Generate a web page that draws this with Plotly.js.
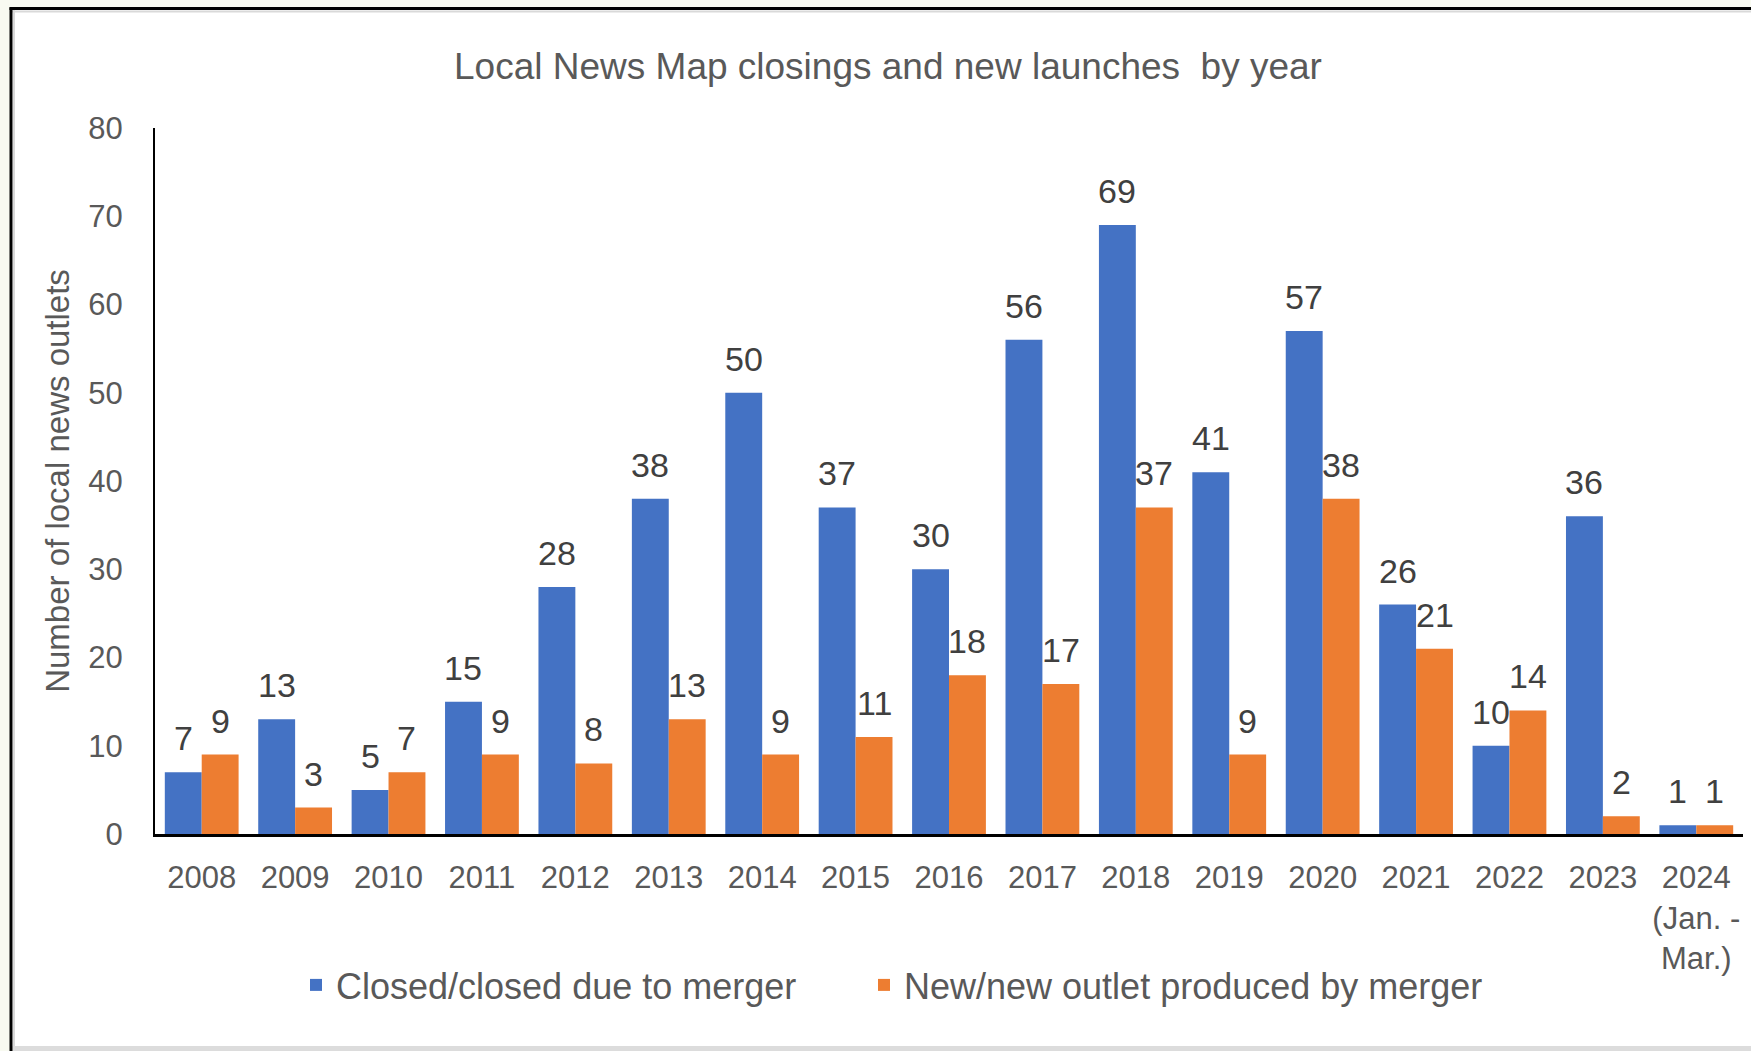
<!DOCTYPE html>
<html><head><meta charset="utf-8">
<script src="https://cdn.plot.ly/plotly-3.0.1.min.js"></script>
<style>html,body{margin:0;padding:0;background:#f8faf1;}#chart{width:1751px;height:1051px;}</style>
</head><body><div id="chart"></div>
<script>
const years = ['2008','2009','2010','2011','2012','2013','2014','2015','2016','2017','2018','2019','2020','2021','2022','2023','2024'];
const tickLabels = ['2008','2009','2010','2011','2012','2013','2014','2015','2016','2017','2018','2019','2020','2021','2022','2023','2024<br>(Jan. -<br>Mar.)'];
const closedCounts = [7,13,5,15,28,38,50,37,30,56,69,41,57,26,10,36,1];
const newCounts = [9,3,7,9,8,13,9,11,18,17,37,9,38,21,14,2,1];
const seriesNames = ['Closed/closed due to merger','New/new outlet produced by merger'];
const seriesColors = ['#4472C4','#ED7D31'];
const titleText = 'Local News Map closings and new launches  by year';
const yTitleText = 'Number of local news outlets';
const yTicks = [0,10,20,30,40,50,60,70,80];

const W = 1751, H = 1051, M = {l:155, r:8, t:128, b:217};
const pw = W - M.l - M.r, ph = H - M.t - M.b;
const px = x => (x - M.l) / pw;
const py = y => (H - M.b - y) / ph;
const FONT = 'Liberation Sans, Arial, sans-serif';
const BARGAP = 0.21;

function barTrace(name, vals, color, lw) {
  return {
    type: 'bar', name: name, x: years, y: vals,
    marker: {color: color, line: {width: 0}},
    legendwidth: lw,
    hoverinfo: 'skip'
  };
}
const data = [
  barTrace(seriesNames[0], closedCounts, seriesColors[0], 523),
  barTrace(seriesNames[1], newCounts, seriesColors[1], 580)
];

// value labels placed above each bar of the grouped pair (x given as category index)
const barW = (pw / years.length) * (1 - BARGAP) / 2;
const labels = [];
[closedCounts, newCounts].forEach((vals, s) => {
  vals.forEach((v, i) => {
    labels.push({
      x: i, y: v, xref: 'x', yref: 'y', text: String(v), showarrow: false,
      xshift: (s === 0 ? -1 : 1) * barW / 2, yshift: 13, yanchor: 'bottom', xanchor: 'center',
      font: {family: FONT, size: 34, color: '#404040'}
    });
  });
});

const shapes = [
  {type:'rect', xref:'paper', yref:'paper', x0:px(11), x1:px(1760), y0:py(9), y1:py(1047), fillcolor:'#ffffff', line:{width:0}, layer:'below'},
  {type:'rect', xref:'paper', yref:'paper', x0:px(12.5), x1:px(1760), y0:py(1046), y1:py(1052), fillcolor:'#dcdcdc', line:{width:0}, layer:'below'},
  {type:'line', xref:'paper', yref:'paper', x0:px(14), x1:px(14), y0:py(10), y1:py(1046), line:{color:'#d9d9d9', width:2}, layer:'below'},
  {type:'line', xref:'paper', yref:'paper', x0:px(12), x1:px(1760), y0:py(11.5), y1:py(11.5), line:{color:'#d9d9d9', width:2}, layer:'below'},
  {type:'line', xref:'paper', yref:'paper', x0:px(11), x1:px(11), y0:py(7.5), y1:py(1060), line:{color:'#000000', width:3}},
  {type:'line', xref:'paper', yref:'paper', x0:px(9.5), x1:px(1760), y0:py(8.5), y1:py(8.5), line:{color:'#000000', width:3}}
];

const layout = {
  width: W, height: H,
  margin: M,
  paper_bgcolor: '#f8faf1',
  plot_bgcolor: 'rgba(0,0,0,0)',
  font: {family: FONT, color: '#595959'},
  title: {text: titleText, font: {family: FONT, size: 37, color: '#595959'},
          x: 888/W, xanchor: 'center', xref: 'container', y: 1 - 66/H, yanchor: 'middle', yref: 'container'},
  barmode: 'group', bargap: BARGAP, bargroupgap: 0,
  xaxis: {
    type: 'category', tickvals: years, ticktext: tickLabels, tickangle: 0,
    range: [-0.5, years.length - 0.5], autorange: false,
    showline: true, linecolor: '#000000', linewidth: 3, ticks: '',
    showgrid: false, zeroline: false,
    tickfont: {family: FONT, size: 31, color: '#595959'},
    ticklabelstandoff: 14, automargin: false
  },
  yaxis: {
    range: [0, 80], tickvals: yTicks, showline: true, linecolor: '#000000', linewidth: 2,
    ticks: '', showgrid: false, zeroline: false,
    tickfont: {family: FONT, size: 31, color: '#595959'},
    ticklabelstandoff: 24, automargin: false,
    title: {text: yTitleText, font: {family: FONT, size: 33, color: '#595959'}, standoff: 9}
  },
  showlegend: true,
  legend: {orientation: 'h', x: px(296), xanchor: 'left', y: py(985), yanchor: 'middle',
           font: {family: FONT, size: 36, color: '#595959'}, bgcolor: 'rgba(0,0,0,0)'},
  annotations: labels,
  shapes: shapes
};

Plotly.newPlot('chart', data, layout, {staticPlot: true, displayModeBar: false});
</script>
</body></html>
